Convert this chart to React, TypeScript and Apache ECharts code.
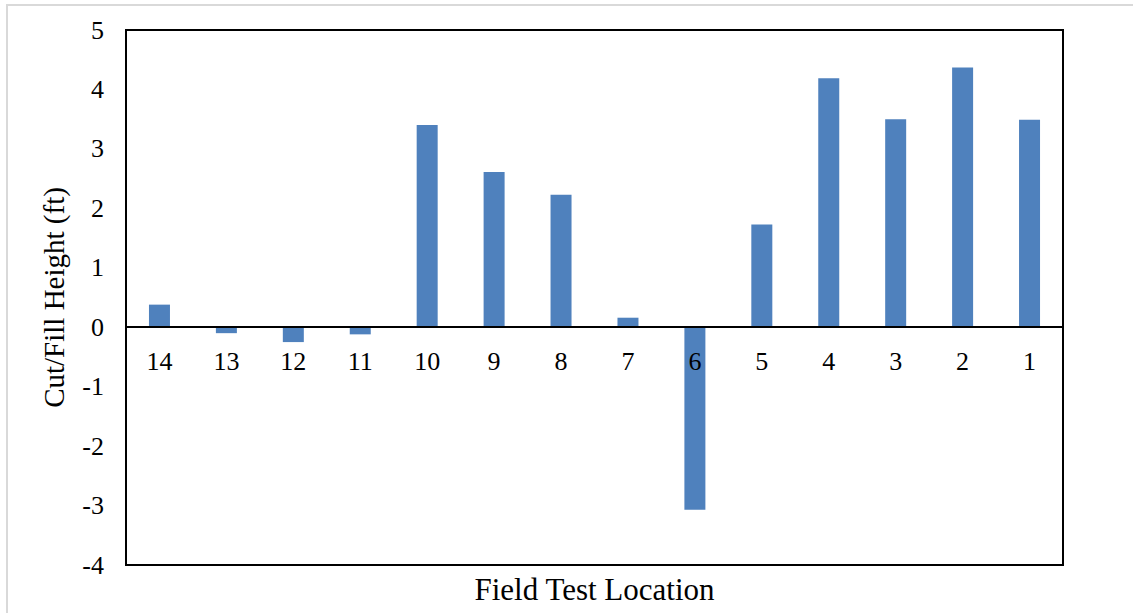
import React, { useEffect, useRef } from "react";
import * as echarts from "echarts";

const categories = ["14", "13", "12", "11", "10", "9", "8", "7", "6", "5", "4", "3", "2", "1"];
const heights = [0.38, -0.1, -0.25, -0.12, 3.4, 2.61, 2.23, 0.16, -3.07, 1.73, 4.19, 3.5, 4.37, 3.49];
const yTicks = { min: -4, max: 5, interval: 1 };
const xTitle = "Field Test Location";
const yTitle = "Cut/Fill Height (ft)";

const FONT = "'Liberation Serif', 'Times New Roman', serif";

export default function App() {
  const ref = useRef<HTMLDivElement>(null);
  useEffect(() => {
    if (!ref.current) return;
    const chart = echarts.init(ref.current, undefined, { renderer: "svg" });
    const gridTop = 30;
    const gridBottom = 48;
    const plotH = 613 - gridTop - gridBottom;
    const zeroFromBottom = ((0 - yTicks.min) / (yTicks.max - yTicks.min)) * plotH;
    chart.setOption({
      animation: false,
      backgroundColor: "#ffffff",
      grid: {
        left: 126,
        top: gridTop,
        right: 70,
        bottom: gridBottom,
        show: true,
        borderColor: "#000000",
        borderWidth: 2,
        backgroundColor: "transparent",
      },
      graphic: [
        {
          type: "rect",
          shape: { x: 7, y: 5, width: 1140, height: 620 },
          style: { fill: "none", stroke: "#d9d9d9", lineWidth: 2 },
          silent: true,
          z: -10,
        },
        {
          type: "text",
          x: 594.5,
          y: 589,
          style: {
            text: xTitle,
            font: `31px ${FONT}`,
            fill: "#000000",
            textAlign: "center",
            textVerticalAlign: "middle",
          },
        },
      ],
      xAxis: {
        type: "category",
        data: categories,
        z: 5,
        offset: -zeroFromBottom,
        axisLine: { show: true, onZero: false, lineStyle: { color: "#000000", width: 2 } },
        axisTick: { show: false },
        splitLine: { show: false },
        axisLabel: {
          color: "#000000",
          fontFamily: FONT,
          fontSize: 26,
          margin: 21,
        },
      },
      yAxis: {
        type: "value",
        min: yTicks.min,
        max: yTicks.max,
        interval: yTicks.interval,
        name: yTitle,
        nameLocation: "middle",
        nameGap: 58,
        nameTextStyle: { color: "#000000", fontFamily: FONT, fontSize: 29 },
        axisLine: { show: false },
        axisTick: { show: false },
        splitLine: { show: false },
        axisLabel: {
          color: "#000000",
          fontFamily: FONT,
          fontSize: 26,
          margin: 22,
        },
      },
      series: [
        {
          type: "bar",
          data: heights,
          barWidth: 21,
          itemStyle: { color: "#4f81bd" },
        },
      ],
    });
    return () => chart.dispose();
  }, []);
  return (
    <div
      ref={ref}
      style={{ position: "absolute", left: 0, top: 0, width: 1133, height: 613 }}
    />
  );
}
